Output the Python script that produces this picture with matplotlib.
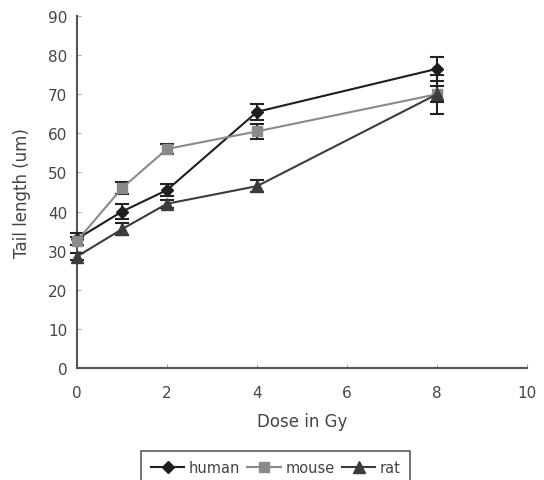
import matplotlib
matplotlib.use("Agg")
import matplotlib.pyplot as plt
from matplotlib.lines import Line2D

dose = [0, 1, 2, 4, 8]

human = [33, 40, 45.5, 65.5, 76.5]
human_err = [1.5, 2, 1.5, 2, 3]
mouse = [32.5, 46, 56, 60.5, 70]
mouse_err = [1, 1.5, 1.2, 2, 2]
rat = [28.5, 35.5, 42, 46.5, 70]
rat_err = [1, 1.5, 1, 1.5, 5]

_TXT = "#444444"
_AX = "#555555"

plt.rcParams["font.family"] = ["DejaVu Sans"]

fig = plt.figure(figsize=(5.44, 4.81), dpi=100, facecolor="white")
ax = fig.add_axes([0.1415, 0.2328, 0.8275, 0.7319])

series = [
    ("human", human, human_err, "#1e1e1e", "D", 6),
    ("mouse", mouse, mouse_err, "#8a8a8a", "s", 7),
    ("rat", rat, rat_err, "#3c3c3c", "^", 8),
]
handles = []
for name, vals, err, col, mk, ms in series:
    ax.errorbar(dose, vals, yerr=err, color=col, marker=mk, markersize=ms,
                linewidth=1.5, elinewidth=1.5, capsize=5, capthick=1.5,
                ecolor="#222222", zorder=3, clip_on=False)
    handles.append(Line2D([], [], color=col, marker=mk, markersize=ms,
                          linewidth=1.5, label=name))

ax.set_xlim(0, 10)
ax.set_ylim(0, 90)
ax.set_xticks(range(0, 11, 2))
ax.set_yticks(range(0, 91, 10))
for s in ["top", "right"]:
    ax.spines[s].set_visible(False)
for s in ["left", "bottom"]:
    ax.spines[s].set_color(_AX)
    ax.spines[s].set_linewidth(1.5)
ax.tick_params(direction="in", length=3, colors="#aaaaaa", labelcolor=_TXT,
               labelsize=11)
ax.tick_params(axis="y", pad=7)
ax.tick_params(axis="x", pad=12)
ax.set_xlabel("Dose in Gy", fontsize=12, color=_TXT, labelpad=9)
ax.set_ylabel("Tail length (um)", fontsize=12, color=_TXT, labelpad=12)

leg = fig.legend(handles=handles, loc="upper center",
                 bbox_to_anchor=(0.507, 0.061), ncol=3,
                 frameon=True, fancybox=False, edgecolor="#333333",
                 fontsize=10.5, handlelength=2.3, handletextpad=0.3,
                 columnspacing=0.5, borderpad=0.65, borderaxespad=0)
leg.get_frame().set_linewidth(1.2)
for t in leg.get_texts():
    t.set_color(_TXT)

fig.savefig("out.png", dpi=100, facecolor="white")
